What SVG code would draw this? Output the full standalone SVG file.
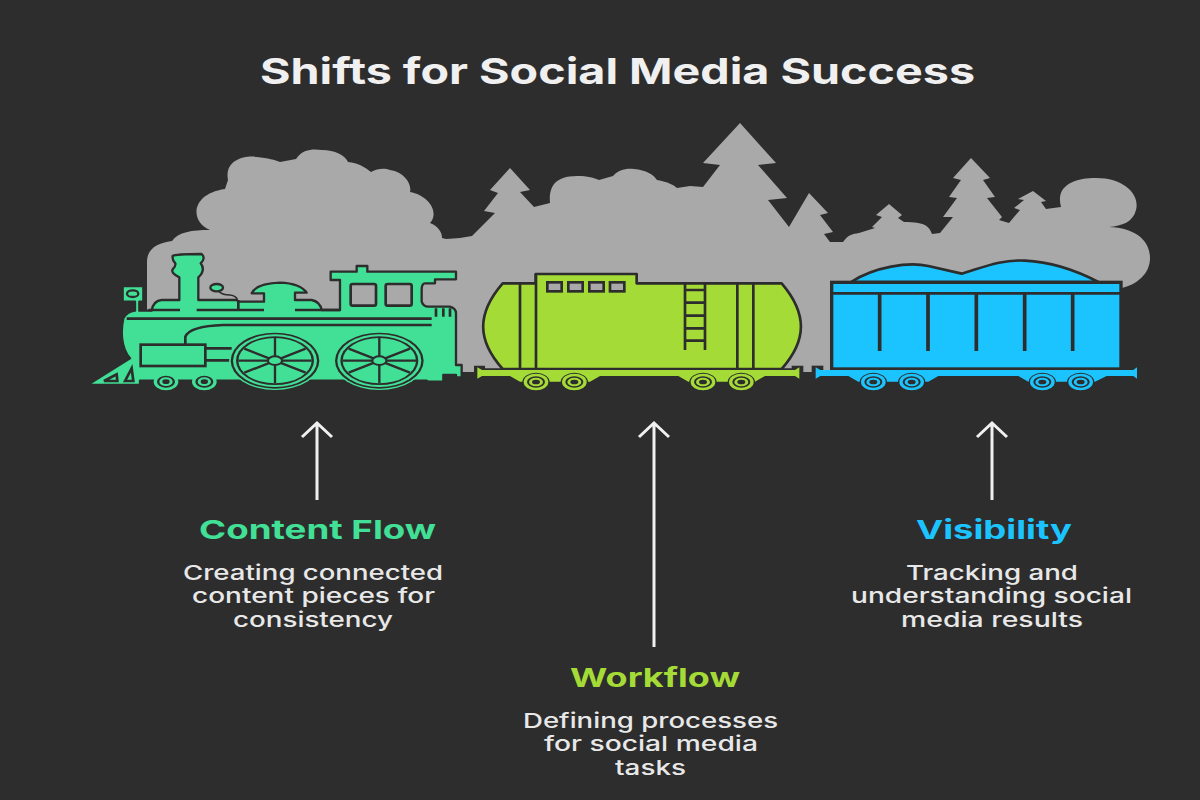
<svg xmlns="http://www.w3.org/2000/svg" width="1200" height="800" viewBox="0 0 1200 800">
<style>
.t{font-family:"Inter","Liberation Sans",sans-serif;font-weight:700}
.d{font-family:"Inter","Liberation Sans",sans-serif;font-weight:500;font-size:20.5px;fill:#e8e8e8}
.h{font-size:26px}
.s{stroke:#2d2d2d;stroke-width:8;stroke-linejoin:round;fill:none}
.g{fill:#42e096}.l{fill:#a4db36}.b{fill:#1cc4ff}
.a{stroke:#f0f0f0;stroke-width:3;fill:none}
</style>
<defs>
<g id="wheelL"><ellipse rx="41" ry="28" fill="#2d2d2d"/><ellipse rx="37" ry="25" class="l"/><ellipse rx="27" ry="17" fill="#2d2d2d"/><ellipse rx="21" ry="13" class="l"/><ellipse rx="12" ry="7" fill="#2d2d2d"/></g>
<g id="wheelB"><ellipse rx="41" ry="28" fill="#2d2d2d"/><ellipse rx="37" ry="25" class="b"/><ellipse rx="27" ry="17" fill="#2d2d2d"/><ellipse rx="21" ry="13" class="b"/><ellipse rx="12" ry="7" fill="#2d2d2d"/></g>
<g id="wheelG"><ellipse rx="37" ry="26" class="g"/><ellipse rx="27" ry="18" fill="#2d2d2d"/><ellipse rx="20" ry="13" class="g"/><ellipse rx="11" ry="7" fill="#2d2d2d"/></g>
<g id="drive"><ellipse rx="138" ry="88" class="g"/><ellipse rx="133" ry="84" fill="#2d2d2d"/><ellipse rx="126" ry="79" class="g"/><ellipse rx="117" ry="73" fill="#2d2d2d"/><ellipse rx="110" ry="68" class="g"/>
<path d="M-110,0H110M0,-68V68M-92,-36L92,36M-92,36L92,-36" class="s" style="stroke-width:7"/><ellipse rx="21" ry="13" class="g" stroke="#2d2d2d" stroke-width="6"/></g>
</defs>
<rect width="1200" height="800" fill="#2d2d2d"/>
<text id="title" class="t" x="260" y="84" font-size="36" fill="#f0f0f0" textLength="715" lengthAdjust="spacingAndGlyphs">Shifts for Social Media Success</text>
<path id="scenery" fill="#a9a9a9" d="M147,372V262C147,248 158,243 172,241C178,232 192,230 210,230C190,222 190,194 225,189L228,180C224,160 245,155 257,157C268,158 275,160 280,162L296,159C303,148 315,149 322,150C335,150 345,155 348,162C358,163 365,167 371,172C378,168 385,168 390,170C405,172 412,185 410,192C428,195 440,212 430,223C438,226 442,232 442,238L446,239L460,238L472,236L495,213L484,211L498,193L490,190L510,168L530,190L520,192L534,207L550,203C549,190 552,176 577,176C588,176 594,178 599,180L613,176C618,170 626,168 634,169C646,170 654,175 657,180C668,182 674,185 677,188L690,186L703,187L720,165L703,163L740,123L776,163L758,165L787,198L768,200L789,227L809,193L828,213L820,215L833,232L824,234L830,242L843,242C848,235 852,234 859,233L875,228L872,227L882,217L876,215L889,204L902,215L898,218L904,222C925,222 929,226 932,234L940,233L953,217L943,217L957,198L949,197L961,180L953,178L971,158L990,178L983,180L995,197L987,198L1002,217L999,220L1009,223L1020,210L1014,208L1024,200L1018,199L1033,191L1046,201L1041,202L1046,209L1061,207C1055,185 1075,178 1096,178C1125,178 1140,195 1136,210C1133,222 1122,226 1109,227C1135,228 1150,240 1150,258C1150,275 1135,285 1122,288V372H147Z"/>
<g id="connectors">
<path class="a" d="M317,500V423M302,437L317,423L332,437"/>
<path class="a" d="M654,647V423M639,437L654,423L669,437"/>
<path class="a" d="M992,500V423M977,437L992,423L1007,437"/>
</g>
<g id="locomotive" transform="translate(80 240) scale(.33333)">
<path class="g" stroke="#2d2d2d" stroke-width="7" stroke-linejoin="round" d="M22,435L150,355C122,325 122,270 130,235Q140,215 165,212V185H128V138H190V185H178V212H215Q220,182 245,180H298V112Q272,100 278,88Q288,78 286,70Q276,60 278,48Q285,42 365,42Q378,55 362,70Q378,90 355,112V180H470L475,185H552V160H515Q530,130 600,128Q660,130 680,158H645V180H695Q720,185 725,210H780V120H752V95H830V78H862V95H1128V118H1065V130H1035Q1025,130 1025,150V185Q1030,200 1045,200H1110Q1128,205 1128,220V375H1145V412H1128V405H1090V425H1045L1040,422H180V435Z"/>
<path class="s" d="M205,210H300M350,210H552M645,210H780M475,180V210"/>
<path class="s" d="M140,236H1055M1055,255H430Q330,258 316,290V312"/>
<rect x="182" y="314" width="194" height="64" class="g" stroke="#2d2d2d" stroke-width="8"/>
<path class="s" d="M376,325H455M376,361H455"/>
<rect x="812" y="132" width="76" height="65" rx="6" fill="#a9a9a9" stroke="#2d2d2d" stroke-width="8"/>
<rect x="917" y="132" width="78" height="65" rx="6" fill="#a9a9a9" stroke="#2d2d2d" stroke-width="8"/>
<ellipse cx="158" cy="161" rx="17" ry="10" class="g" stroke="#2d2d2d" stroke-width="7"/>
<ellipse cx="410" cy="143" rx="19" ry="11" class="g" stroke="#2d2d2d" stroke-width="7"/>
<path d="M415,152Q425,165 450,165Q470,168 472,180" fill="none" stroke="#2d2d2d" stroke-width="5"/>
<path class="s" d="M1068,205V230M1090,205V230M1110,205V230"/>
<path d="M72,423L110,403L112,423ZM135,423L155,385L160,423Z" class="g" stroke="#2d2d2d" stroke-width="8"/>
<use href="#drive" x="585" y="362"/><use href="#drive" x="898" y="362"/>
<use href="#wheelG" x="258" y="425"/><use href="#wheelG" x="373" y="425"/>
</g>
<g id="tank-car" transform="translate(470 250) scale(.33333)">
<path class="l" stroke="#2d2d2d" stroke-width="8" stroke-linejoin="round" d="M98,100H197V72H500V100H935C1012,190 1012,270 935,357H98C20,270 20,190 98,100Z"/>
<path class="s" d="M150,100V355M198,72V355M802,100V355M850,100V355M645,100V300M705,100V300M645,120H705M645,158H705M645,197H705M645,235H705M645,272H705"/>
<g fill="#a9a9a9" stroke="#2d2d2d" stroke-width="8"><rect x="232" y="97" width="43" height="27"/><rect x="295" y="97" width="43" height="27"/><rect x="358" y="97" width="43" height="27"/><rect x="420" y="97" width="43" height="27"/></g>
<path d="M12,347H45V355H965V347H1000V366H12Z" fill="#2d2d2d"/>
<path class="l" d="M22,352L36,360H975L988,352V386L975,378H625L655,395H855L885,378H390L360,395H150L120,378H36L22,386Z"/>
<use href="#wheelL" x="198" y="396"/><use href="#wheelL" x="313" y="396"/><use href="#wheelL" x="699" y="396"/><use href="#wheelL" x="814" y="396"/>
</g>
<g id="coal-car" transform="translate(805 250) scale(.33333)">
<path class="b" stroke="#2d2d2d" stroke-width="8" stroke-linejoin="round" d="M138,96C210,50 310,35 370,48L470,71C540,50 590,28 660,32C750,36 830,70 880,96Z"/>
<rect x="80" y="97" width="868" height="260" class="b" stroke="#2d2d2d" stroke-width="10"/>
<path class="s" d="M84,130H945" stroke-width="7"/>
<path d="M224,130V303M369,130V303M514,130V303M659,130V303M803,130V303" fill="none" stroke="#2d2d2d" stroke-width="11"/>
<rect x="20" y="347" width="35" height="19" fill="#2d2d2d"/>
<path class="b" d="M32,352L46,360H985L996,352V386L985,378H640L670,395H870L905,378H400L370,395H160L130,378H46L32,386Z"/>
<use href="#wheelB" x="205" y="396"/><use href="#wheelB" x="320" y="396"/><use href="#wheelB" x="712" y="396"/><use href="#wheelB" x="827" y="396"/>
</g>
<g id="content-flow">
<text class="t h" x="199" y="539" fill="#42e096" textLength="237" lengthAdjust="spacingAndGlyphs">Content Flow</text>
<text class="d" x="183" y="580" textLength="260" lengthAdjust="spacingAndGlyphs">Creating connected</text>
<text class="d" x="192" y="603" textLength="243" lengthAdjust="spacingAndGlyphs">content pieces for</text>
<text class="d" x="233" y="627" textLength="160" lengthAdjust="spacingAndGlyphs">consistency</text>
</g>
<g id="workflow">
<text class="t h" x="570" y="687" fill="#a4db36" textLength="170" lengthAdjust="spacingAndGlyphs">Workflow</text>
<text class="d" x="523" y="728" textLength="255" lengthAdjust="spacingAndGlyphs">Defining processes</text>
<text class="d" x="544" y="751" textLength="214" lengthAdjust="spacingAndGlyphs">for social media</text>
<text class="d" x="615" y="775" textLength="71" lengthAdjust="spacingAndGlyphs">tasks</text>
</g>
<g id="visibility">
<text class="t h" x="916" y="539" fill="#1cc4ff" textLength="156" lengthAdjust="spacingAndGlyphs">Visibility</text>
<text class="d" x="906" y="580" textLength="172" lengthAdjust="spacingAndGlyphs">Tracking and</text>
<text class="d" x="851" y="603" textLength="281" lengthAdjust="spacingAndGlyphs">understanding social</text>
<text class="d" x="901" y="627" textLength="182" lengthAdjust="spacingAndGlyphs">media results</text>
</g>
</svg>
